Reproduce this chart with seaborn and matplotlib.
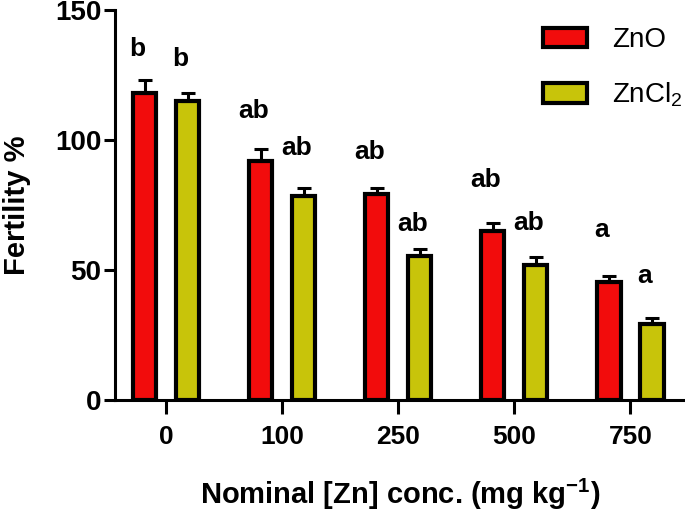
import numpy as np
import pandas as pd
import matplotlib
matplotlib.use('Agg')
import matplotlib.pyplot as plt
import seaborn as sns

# data
doses = ['0', '100', '250', '500', '750']
zno = [118, 92, 79, 65, 45.5]
zno_err = [5, 4.5, 2.5, 3, 2]
zncl2 = [115, 78.5, 55.5, 52, 29]
zncl2_err = [3, 3, 2.5, 3, 2.5]

# significance letters and the height they sit at
zno_letters = ['b', 'ab', 'ab', 'ab', 'a']
zno_letter_y = [135, 111, 95.5, 84.5, 65.5]
zncl2_letters = ['b', 'ab', 'ab', 'ab', 'a']
zncl2_letter_y = [131, 97, 67.5, 68, 47.5]

df = pd.DataFrame({
    'dose': doses * 2,
    'fertility': zno + zncl2,
    'salt': ['ZnO'] * 5 + ['ZnCl2'] * 5,
})

sns.set_style('ticks')
plt.rcParams['font.family'] = ['Liberation Sans', 'DejaVu Sans']
plt.rcParams['mathtext.default'] = 'regular'
plt.rcParams['text.color'] = 'black'
plt.rcParams['xtick.color'] = 'black'
plt.rcParams['ytick.color'] = 'black'
plt.rcParams['axes.labelcolor'] = 'black'

fig = plt.figure(figsize=(6.85, 5.16), dpi=100)
ax = fig.add_axes([0.168, 0.225, 0.832, 0.756])

sns.barplot(data=df, x='dose', y='fertility', hue='salt', order=doses,
            palette={'ZnO': '#f20c0c', 'ZnCl2': '#c8c40a'}, saturation=1,
            width=0.74, gap=0.46, edgecolor='black', linewidth=3,
            errorbar=None, ax=ax)

# one-sided error bars on top of each bar
for cont, vals, errs in zip(ax.containers, [zno, zncl2], [zno_err, zncl2_err]):
    xs = [b.get_x() + b.get_width() / 2 for b in cont]
    ax.errorbar(xs, vals, yerr=[np.zeros(len(errs)), errs], fmt='none',
                ecolor='black', elinewidth=2.2, capsize=5, capthick=2.2, zorder=1)

# letters above bars
for cont, letters, ly in zip(ax.containers, [zno_letters, zncl2_letters],
                              [zno_letter_y, zncl2_letter_y]):
    for b, t, y in zip(cont, letters, ly):
        ax.text(b.get_x() + b.get_width() / 2 - 0.06, y, t, ha='center', va='center',
                fontsize=19, fontweight='bold')

ax.set_ylim(0, 150)
ax.set_xlim(-0.44, 4.47)
ax.set_yticks([0, 50, 100, 150])
ax.spines['top'].set_visible(False)
ax.spines['right'].set_visible(False)
ax.spines['left'].set_linewidth(2.2)
ax.spines['bottom'].set_linewidth(2.2)
ax.spines['left'].set_color('black')
ax.spines['bottom'].set_color('black')
ax.tick_params(axis='y', length=8, width=2.2, labelsize=20, pad=2)
ax.tick_params(axis='x', length=10, width=2.2, labelsize=19, pad=8)
for lab in ax.get_xticklabels() + ax.get_yticklabels():
    lab.set_fontweight('bold')

ax.set_xlabel('Nominal [Zn] conc. (mg kg$^{-1}$)', fontsize=21, fontweight='bold', labelpad=20)
ax.set_ylabel('Fertility %', fontsize=21, fontweight='bold')
ax.yaxis.set_label_coords(-0.148, 0.5)

handles = [ax.containers[0][0], ax.containers[1][0]]
ax.legend(handles, ['ZnO', 'ZnCl$_2$'], loc='upper right', bbox_to_anchor=(1.04, 1.02),
          frameon=False, fontsize=20, handlelength=1.6, handleheight=0.7,
          handletextpad=0.9, labelspacing=1.0)

fig.savefig('out.png', dpi=100)
